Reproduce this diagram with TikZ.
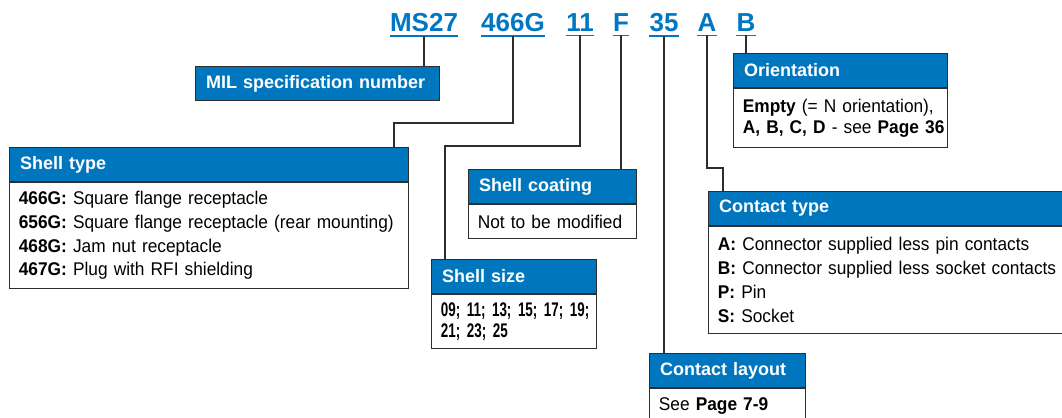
\documentclass[tikz,border=0pt]{standalone}
\usepackage{fontspec}
\setmainfont{Liberation Sans}
\newfontfamily\codeBodyFace[FakeStretch=0.94]{Liberation Sans}
\newfontfamily\codeNarrow[FakeStretch=0.68]{Liberation Sans}
\usetikzlibrary{calc}
\definecolor{codeBlue}{RGB}{0,119,196}
\definecolor{headBlue}{RGB}{0,118,190}
\definecolor{edgeGray}{RGB}{45,45,45}
\newcommand{\codeBodyFont}{\codeBodyFace\fontsize{13.8}{17.8}\selectfont}

\begin{document}
\begin{tikzpicture}[x=0.75pt,y=-0.75pt,
  code/.style={anchor=base, inner xsep=0pt, inner ysep=2.4pt, text=codeBlue, font=\fontsize{19.5}{22}\selectfont\bfseries},
  uline/.style={draw=codeBlue, line width=1.2pt},
  link/.style={draw=edgeGray, line width=0.9pt},
  head/.style={anchor=north west, draw=edgeGray, line width=0.8pt, fill=headBlue, text=white, align=left, inner xsep=8pt, inner ysep=0pt, minimum height=25.5pt, font=\fontsize{13.5}{16}\selectfont\bfseries},
  body/.style={anchor=north west, draw=edgeGray, line width=0.8pt, fill=white, align=left, inner xsep=7pt, inner ysep=0pt, font=\codeBodyFont}]
\useasboundingbox (0,0) rectangle (1062,417);
\clip (0,0) rectangle (1062,417);

\node[code] (cMS) at (424,32) {MS27};
\node[code] (cType) at (513,32) {466G};
\node[code] (cSize) at (580,32) {11};
\node[code] (cCoat) at (621,32) {F};
\node[code] (cLay) at (664,32) {35};
\node[code] (cCont) at (707,32) {A};
\node[code] (cOri) at (746,32) {B};
\foreach \c in {cMS,cType,cSize,cCoat,cLay,cCont,cOri}
  \draw[uline] (\c.south west) -- (\c.south east);

\node[head, text width=167pt] (milHead) at (195,66) {MIL specification number};

\node[head, text width=283.25pt] (typeHead) at (9,147) {Shell type};
\node[body, text width=285.25pt, minimum height=79.5pt] (typeBody) at (typeHead.south west) {\textbf{466G:} Square flange receptacle\\\textbf{656G:} Square flange receptacle (rear mounting)\\\textbf{468G:} Jam nut receptacle\\\textbf{467G:} Plug with RFI shielding};

\node[head, text width=110pt] (coatHead) at (468,169) {Shell coating};
\node[body, text width=112pt, minimum height=25.5pt] (coatBody) at (coatHead.south west) {Not to be modified};

\node[head, text width=107.75pt] (sizeHead) at (431,259) {Shell size};
\node[body, text width=109.75pt, minimum height=40.5pt, font={\codeNarrow\fontsize{14.8}{15.5}\selectfont\bfseries}] (sizeBody) at (sizeHead.south west) {\mbox{09; 11; 13; 15; 17; 19;}\\\mbox{21; 23; 25}};

\node[head, text width=101pt] (layHead) at (649,353) {Contact layout};
\node[body, text width=103pt, minimum height=25.5pt] (layBody) at (layHead.south west) {See \textbf{Page 7-9}};

\node[head, text width=144.5pt] (oriHead) at (733,53) {Orientation};
\node[body, text width=146.5pt, minimum height=44.25pt, font=\codeBodyFace\fontsize{13.8}{15.75}\selectfont] (oriBody) at (oriHead.south west) {\mbox{\textbf{Empty} (= N orientation),}\\\mbox{\textbf{A, B, C, D} - see \textbf{Page 36}}};

\node[head, text width=261.5pt] (contHead) at (708,191) {Contact type};
\node[body, text width=263.5pt, minimum height=80.25pt, font=\codeBodyFace\fontsize{13.8}{18}\selectfont] (contBody) at (contHead.south west) {\textbf{A:} Connector supplied less pin contacts\\\textbf{B:} Connector supplied less socket contacts\\\textbf{P:} Pin\\\textbf{S:} Socket};

\draw[link] (cMS.south) -- (cMS.south |- milHead.north);
\draw[link] (cType.south) |- ($(typeHead.north east)+(-15,-24)$) -- ($(typeHead.north east)+(-15,0)$);
\draw[link] (cSize.south) |- ($(sizeHead.north west)+(14,-113)$) -- ($(sizeHead.north west)+(14,0)$);
\draw[link] (cCoat.south) -- (cCoat.south |- coatHead.north);
\draw[link] (cLay.south) -- (cLay.south |- layHead.north);
\draw[link] (cCont.south) |- ($(contHead.north west)+(15,-23)$) -- ($(contHead.north west)+(15,0)$);
\draw[link] (cOri.south) -- (cOri.south |- oriHead.north);
\end{tikzpicture}
\end{document}
